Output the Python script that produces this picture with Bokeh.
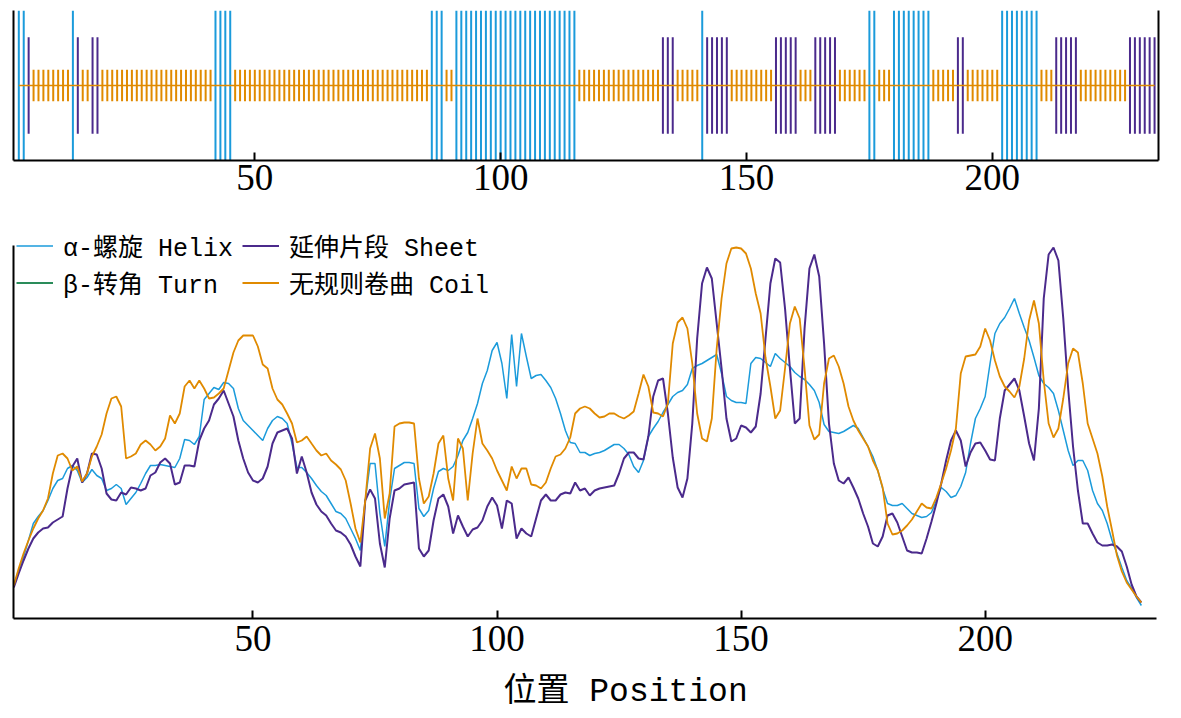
from bokeh.plotting import figure
from bokeh.layouts import column
from bokeh.models import LinearAxis, FixedTicker, Legend, LegendItem, Range1d, Title
from bokeh.embed import file_html
from bokeh.resources import INLINE

# ---------------- data ----------------
positions = list(range(1, 233))

helix = [
    33, 48, 62, 78, 95, 102, 108, 118, 130, 138,
    140, 150, 153, 148, 136, 141, 149, 143, 140, 128,
    130, 134, 130, 114, 120, 126, 135, 145, 153, 153,
    154, 153, 152, 151, 160, 179, 178, 174, 182, 219,
    225, 231, 229, 236, 235, 230, 210, 198, 193, 188,
    183, 178, 190, 198, 202, 200, 195, 175, 151, 151,
    146, 140, 133, 127, 123, 115, 107, 105, 100, 90,
    80, 68, 118, 155, 155, 105, 72, 118, 150, 153,
    156, 156, 155, 110, 102, 108, 130, 147, 150, 148,
    152, 163, 178, 186, 200, 215, 235, 248, 268, 276,
    255, 220, 284, 232, 285, 262, 240, 243, 244, 238,
    231, 220, 205, 188, 176, 175, 166, 166, 163, 165,
    166, 168, 171, 174, 174, 170, 164, 152, 146, 158,
    182, 190, 197, 206, 214, 222, 226, 228, 234, 250,
    253, 255, 258, 261, 264, 245, 222, 218, 216, 216,
    215, 255, 261, 260, 256, 252, 265, 260, 256, 252,
    246, 242, 239, 234, 228, 216, 194, 187, 186, 185,
    187, 190, 193, 190, 181, 172, 162, 148, 130, 115,
    113, 113, 115, 110, 105, 103, 101, 102, 106, 118,
    131, 127, 121, 123, 132, 146, 175, 200, 210, 222,
    255, 285, 295, 301, 310, 320, 305, 291, 278, 261,
    243, 235, 231, 225, 208, 188, 168, 153, 158, 158,
    148, 128, 115, 108, 95, 78, 65, 51, 38, 30,
    21, 13,
]

sheet = [
    31, 45, 58, 70, 80, 86, 90, 91, 96, 99,
    102, 130, 152, 160, 136, 145, 165, 164, 150, 125,
    119, 118, 126, 124, 131, 130, 128, 130, 143, 146,
    156, 160, 155, 134, 136, 153, 153, 152, 178, 190,
    198, 214, 220, 228, 215, 202, 178, 160, 146, 138,
    136, 140, 152, 175, 186, 188, 190, 180, 145, 162,
    146, 126, 114, 107, 103, 95, 88, 86, 82, 74,
    62, 52, 118, 129, 120, 75, 51, 100, 128, 130,
    134, 135, 136, 70, 62, 68, 98, 120, 124, 112,
    85, 103, 92, 82, 89, 91, 98, 112, 121, 113,
    90, 118, 115, 80, 90, 85, 82, 100, 118, 124,
    118, 118, 124, 126, 125, 136, 128, 130, 123, 128,
    130, 131, 132, 133, 145, 160, 166, 166, 160, 159,
    182, 222, 238, 240, 205, 161, 131, 121, 140, 195,
    280, 335, 351, 340, 295, 250, 200, 177, 180, 193,
    191, 186, 192, 225, 280, 335, 360, 356, 310, 250,
    195, 200, 290, 350, 364, 342, 275, 195, 155, 138,
    135, 141, 131, 120, 105, 92, 75, 72, 82, 103,
    105, 96, 82, 68, 66, 66, 65, 80, 97, 115,
    135, 158, 178, 188, 178, 152, 166, 175, 176, 168,
    159, 158, 200, 228, 234, 240, 228, 202, 175, 158,
    210, 320, 364, 371, 358, 300, 230, 172, 128, 95,
    95, 85, 76, 73, 73, 74, 72, 67, 52, 34,
    22, 16,
]

coil = [
    33, 50, 65, 78, 90, 100, 108, 120, 145, 163,
    165, 160, 148, 152, 137, 145, 162, 172, 184, 205,
    220, 222, 212, 160, 162, 165, 174, 178, 174, 168,
    172, 180, 203, 195, 205, 232, 238, 230, 238, 230,
    220, 221, 225, 230, 248, 266, 278, 283, 283, 283,
    272, 254, 250, 230, 219, 214, 205, 195, 176, 178,
    182, 175, 168, 163, 165, 158, 154, 149, 138, 115,
    90, 76, 118, 170, 185, 160, 100, 125, 192, 195,
    196, 196, 195, 140, 115, 122, 145, 175, 183, 140,
    118, 180, 170, 118, 165, 200, 175, 168, 160, 148,
    138, 128, 152, 140, 150, 150, 134, 133, 130, 136,
    150, 162, 164, 170, 181, 205, 210, 212, 210, 205,
    201, 202, 205, 205, 202, 200, 203, 207, 225, 244,
    232, 206, 205, 202, 215, 275, 296, 301, 290, 255,
    205, 180, 177, 200, 270, 320, 355, 370, 371, 370,
    365, 350, 325, 305, 261, 232, 200, 208, 250, 295,
    312, 300, 250, 193, 179, 184, 235, 260, 263, 252,
    235, 212, 198, 188, 180, 172, 158, 148, 131, 95,
    84, 85, 88, 93, 99, 107, 115, 111, 110, 121,
    135, 150, 168, 190, 245, 262, 263, 264, 272, 290,
    278, 258, 242, 232, 227, 221, 232, 260, 298, 318,
    295, 238, 195, 181, 190, 220, 255, 270, 266, 235,
    195, 180, 165, 142, 112, 88, 63, 47, 36, 29,
    22, 16,
]

# the Turn series has no visible values in the chart (legend entry only)
turn_positions = [float("nan")]
turn = [float("nan")]

# secondary-structure segments (start, end, class)
ss_start = [2, 4, 5, 13, 14, 15, 17, 19, 42, 46, 86, 89, 91, 116, 133, 136, 141, 142,
            147, 156, 161, 164, 169, 175, 177, 180, 188, 193, 195, 202, 210, 213, 218, 228]
ss_end = [3, 4, 12, 13, 14, 16, 18, 41, 45, 85, 88, 90, 115, 132, 135, 140, 141, 146,
          155, 160, 163, 168, 174, 176, 179, 187, 192, 194, 201, 209, 212, 217, 227, 233]
ss_type = ["H", "E", "C", "H", "E", "C", "E", "C", "H", "C", "H", "C", "H", "C", "E", "C", "H", "E",
           "C", "E", "C", "E", "C", "H", "C", "H", "C", "E", "C", "H", "C", "E", "C", "E"]

x_ticks = [50, 100, 150, 200]

labels = {"H": "α-螺旋 Helix", "T": "β-转角 Turn", "E": "延伸片段 Sheet", "C": "无规则卷曲 Coil"}
x_title = "位置 Position"

# ---------------- style ----------------
COL = {"H": "#1b9bdb", "E": "#4b2a8c", "C": "#e08a00", "T": "#2a8c5a"}
HALF = {"H": 1.0, "E": 0.644, "C": 0.21}
TICK_FONT = "Liberation Serif"
TEXT_FONT = "Liberation Mono, Noto Sans CJK SC"
Y_MAX = 373


def frame_axis(bounds=None):
    ax = LinearAxis(ticker=FixedTicker(ticks=[]), major_label_text_font_size="0px",
                    major_tick_in=0, major_tick_out=0, minor_tick_in=0, minor_tick_out=0,
                    major_label_standoff=0, minor_tick_line_color=None,
                    axis_line_width=2, axis_line_color="black")
    if bounds is not None:
        ax.bounds = bounds
    return ax


def style_xaxis(ax, standoff):
    ax.ticker = FixedTicker(ticks=x_ticks)
    ax.major_tick_in = 8
    ax.major_tick_out = 0
    ax.minor_tick_in = 0
    ax.minor_tick_out = 0
    ax.minor_tick_line_color = None
    ax.axis_line_width = 2
    ax.major_tick_line_width = 2
    ax.axis_line_color = "black"
    ax.major_tick_line_color = "black"
    ax.major_label_text_font = TICK_FONT
    ax.major_label_text_font_size = "37px"
    ax.major_label_text_color = "black"
    ax.major_label_standoff = standoff


# ---------------- top track ----------------
p1 = figure(frame_width=1145, frame_height=150, output_backend="svg", toolbar_location=None,
            x_range=Range1d(0.92, 233.8), y_range=Range1d(-1, 1),
            y_axis_location=None, min_border_left=11, min_border_right=8,
            min_border_top=10, min_border_bottom=40)
p1.outline_line_color = None
p1.grid.visible = False
style_xaxis(p1.xaxis[0], 4)
p1.add_layout(frame_axis(), "left")
p1.add_layout(frame_axis(), "right")

xs, y0, y1, cs = [], [], [], []
for s, e, t in zip(ss_start, ss_end, ss_type):
    for pos in range(s, e + 1):
        xs.append(pos)
        y0.append(-HALF[t])
        y1.append(HALF[t])
        cs.append(COL[t])
p1.segment(x0=xs, y0=y0, x1=xs, y1=y1, line_color=cs, line_width=2)
p1.line([ss_start[0], ss_end[-1]], [0, 0], line_color=COL["C"], line_width=1.5)

# ---------------- profile ----------------
p2 = figure(frame_width=1143, frame_height=390, output_backend="svg", toolbar_location=None,
            x_range=Range1d(0.94, 235.1), y_range=Range1d(0, 390),
            y_axis_location=None, min_border_left=13, min_border_right=8,
            min_border_top=28, min_border_bottom=0)
p2.outline_line_color = None
p2.grid.visible = False
style_xaxis(p2.xaxis[0], 7)
p2.add_layout(frame_axis(bounds=(0, Y_MAX)), "left")
p2.add_layout(Title(text=x_title, align="left", offset=490, standoff=36,
                    text_font=TEXT_FONT, text_font_size="33px", text_font_style="normal",
                    text_color="black"), "below")

rh = p2.line(positions, helix, line_color=COL["H"], line_width=1.5)
rt = p2.line(turn_positions, turn, line_color=COL["T"], line_width=2)
re = p2.line(positions, sheet, line_color=COL["E"], line_width=2)
rc = p2.line(positions, coil, line_color=COL["C"], line_width=1.8)

legend = Legend(items=[LegendItem(label=labels["H"], renderers=[rh]),
                       LegendItem(label=labels["T"], renderers=[rt]),
                       LegendItem(label=labels["E"], renderers=[re]),
                       LegendItem(label=labels["C"], renderers=[rc])],
                location=(3, 317), orientation="vertical", nrows=2,
                label_text_font=TEXT_FONT, label_text_font_size="25px",
                label_text_color="black",
                glyph_width=37, glyph_height=33, label_height=33, label_width=179,
                label_standoff=10, padding=0, spacing=0, margin=0,
                border_line_color=None, background_fill_alpha=0)
p2.add_layout(legend, "center")

layout = column(p1, p2, spacing=0)
open("out.html", "w").write(file_html(layout, INLINE))
